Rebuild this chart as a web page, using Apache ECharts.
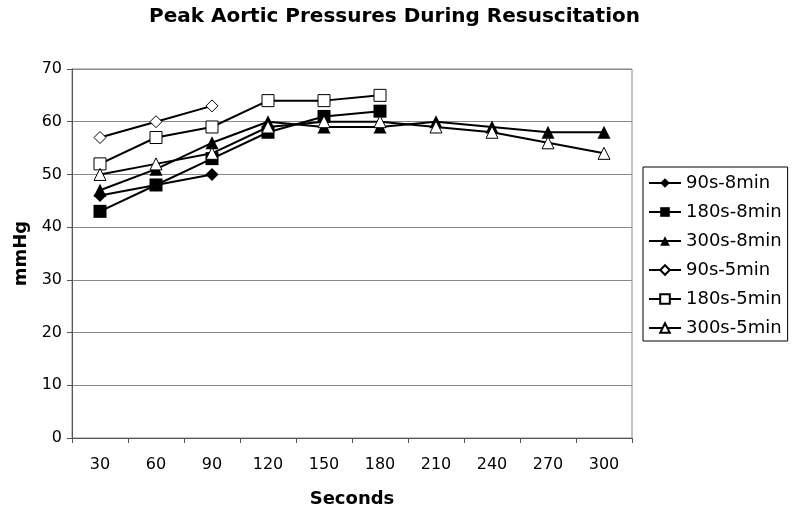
<!DOCTYPE html>
<html>
<head>
<meta charset="utf-8">
<script src="https://cdn.jsdelivr.net/npm/echarts@6/dist/echarts.min.js"></script>
<style>html,body{margin:0;padding:0;background:#fff;}#c{width:800px;height:514px;}</style>
</head>
<body>
<div id="c"></div>
<script>
const categories = ['30','60','90','120','150','180','210','240','270','300'];
const s90_8  = [46, 48, 50];
const s180_8 = [43, 48, 53, 58, 61, 62];
const s300_8 = [47, 51, 56, 60, 59, 59, 60, 59, 58, 58];
const s90_5  = [57, 60, 63];
const s180_5 = [52, 57, 59, 64, 64, 65];
const s300_5 = [50, 52, 54, 59, 60, 60, 59, 58, 56, 54];
const seriesNames = ['90s-8min','180s-8min','300s-8min','90s-5min','180s-5min','300s-5min'];
const yTicks = {min: 0, max: 70, interval: 10};

const FONT = 'DejaVu Sans';
function mk(name, data, symbol, size, filled) {
  return {
    name: name, type: 'line', data: data, symbol: symbol, symbolSize: size,
    showSymbol: true,
    lineStyle: {color: '#000', width: 2},
    itemStyle: {color: filled ? '#000' : '#fff', borderColor: '#000', borderWidth: filled ? 0 : 1},
    emphasis: {disabled: true},
    animation: false
  };
}
const chart = echarts.init(document.getElementById('c'));
chart.setOption({
  animation: false,
  backgroundColor: '#fff',
  title: {
    text: 'Peak Aortic Pressures During Resuscitation',
    left: 144, top: 2,
    textStyle: {fontFamily: FONT, fontSize: 20, fontWeight: 'bold', color: '#000'}
  },
  grid: {left: 72, right: 168, top: 69, bottom: 76, show: true, borderColor: '#888', borderWidth: 1,
         containLabel: false, outerBoundsMode: 'none'},
  legend: {
    orient: 'vertical', left: 643, top: 167,
    padding: [7, 6, 4, 5], itemGap: 11, itemWidth: 32, itemHeight: 12,
    borderColor: '#000', borderWidth: 1, backgroundColor: '#fff',
    textStyle: {fontFamily: FONT, fontSize: 18, color: '#000', lineHeight: 18},
    data: seriesNames
  },
  xAxis: {
    type: 'category', data: categories, boundaryGap: true,
    name: 'Seconds', nameLocation: 'middle', nameGap: 52,
    nameTextStyle: {fontFamily: FONT, fontSize: 18, fontWeight: 'bold', color: '#000'},
    axisLine: {lineStyle: {color: '#555', width: 1}},
    axisTick: {show: true, alignWithLabel: false, length: 5, lineStyle: {color: '#555'}},
    axisLabel: {fontFamily: FONT, fontSize: 16, color: '#000', margin: 19}
  },
  yAxis: {
    type: 'value', min: yTicks.min, max: yTicks.max, interval: yTicks.interval,
    name: 'mmHg', nameLocation: 'middle', nameGap: 41, nameRotate: 90,
    nameTextStyle: {fontFamily: FONT, fontSize: 18, fontWeight: 'bold', color: '#000'},
    axisLine: {show: true, lineStyle: {color: '#555', width: 1}},
    axisTick: {show: true, length: 5, lineStyle: {color: '#555'}},
    axisLabel: {fontFamily: FONT, fontSize: 16, color: '#000', margin: 10},
    splitLine: {show: true, lineStyle: {color: '#888', width: 1}}
  },
  series: [
    mk(seriesNames[0], s90_8, 'diamond', 13, true),
    mk(seriesNames[1], s180_8, 'rect', 13, true),
    mk(seriesNames[2], s300_8, 'triangle', 13, true),
    mk(seriesNames[3], s90_5, 'diamond', 12, false),
    mk(seriesNames[4], s180_5, 'rect', 12, false),
    mk(seriesNames[5], s300_5, 'triangle', 12, false)
  ]
});
</script>
</body>
</html>
